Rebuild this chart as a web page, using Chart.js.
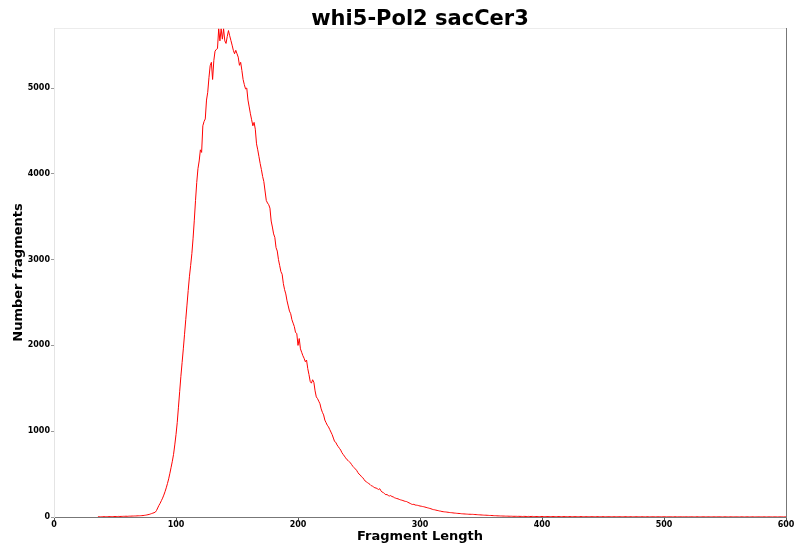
<!DOCTYPE html>
<html>
<head>
<meta charset="utf-8">
<title>whi5-Pol2 sacCer3</title>
<script src="https://cdn.jsdelivr.net/npm/chart.js@4"></script>
<style>
  html, body { margin: 0; padding: 0; background: #fff; }
  #lengthChart { display: block; }
</style>
</head>
<body>
<canvas id="lengthChart" width="798" height="546"></canvas>
<script>
// Fragment length histogram

const firstLength = 36;

const fragmentCounts = [
    2, 3, 2, 3,
    3, 4, 3, 4, 4, 5, 4, 5, 5, 6,
    5, 6, 6, 7, 6, 7, 7, 8, 8, 9,
    8, 9, 10, 10, 11, 11, 12, 12, 13, 14,
    14, 15, 16, 17, 19, 21, 24, 27, 30, 35,
    40, 45, 50, 56, 75, 105, 135, 160, 190, 220,
    255, 295, 340, 390, 445, 510, 580, 650, 730, 840,
    960, 1100, 1280, 1460, 1640, 1800, 1960, 2130, 2300, 2470,
    2640, 2800, 2930, 3070, 3250, 3460, 3690, 3900, 4060, 4150,
    4280, 4250, 4560, 4610, 4640, 4860, 4950, 5120, 5260, 5300,
    5100, 5320, 5430, 5450, 5460, 5690, 5550, 5690, 5570, 5690,
    5550, 5520, 5600, 5670, 5610, 5555, 5500, 5440, 5400, 5440,
    5400, 5360, 5265, 5300, 5205, 5100, 5040, 4990, 5000, 4860,
    4780, 4700, 4630, 4560, 4600, 4520, 4350, 4280, 4200, 4120,
    4050, 3970, 3910, 3800, 3690, 3660, 3640, 3600, 3450, 3380,
    3300, 3260, 3140, 3100, 3000, 2930, 2860, 2830, 2720, 2650,
    2600, 2520, 2460, 2400, 2370, 2300, 2260, 2220, 2150, 2140,
    2000, 2080, 1960, 1920, 1880, 1850, 1810, 1830, 1730, 1660,
    1580, 1560, 1600, 1570, 1470, 1400, 1380, 1350, 1320, 1260,
    1220, 1190, 1130, 1100, 1070, 1050, 1020, 990, 960, 920,
    880, 870, 840, 820, 800, 780, 750, 730, 710, 690,
    670, 660, 645, 630, 610, 590, 575, 560, 545, 520,
    500, 490, 470, 460, 440, 420, 410, 400, 390, 380,
    365, 360, 350, 340, 338, 330, 320, 330, 305, 290,
    285, 270, 260, 262, 250, 245, 250, 238, 235, 225,
    220, 215, 212, 205, 200, 196, 192, 186, 182, 180,
    172, 165, 158, 150, 146, 148, 140, 138, 136, 132,
    128, 126, 122, 120, 116, 112, 108, 104, 100, 96,
    90, 86, 84, 80, 77, 74, 70, 68, 64, 62,
    60, 59, 57, 55, 53, 51, 50, 48, 46, 45,
    43, 42, 41, 40, 38, 37, 36, 35, 34, 33,
    32, 32, 31, 31, 30, 29, 28, 27, 26, 25,
    24, 23, 22, 21, 21, 20, 19, 18, 18, 17,
    16, 15, 15, 14, 13, 13, 12, 12, 11, 11,
    10, 10, 10, 9, 9, 9, 8, 8, 8, 8,
    7, 8, 7, 7, 6, 7, 7, 6, 6, 7,
    6, 6, 7, 6, 6, 5, 6, 6, 5, 6,
    6, 5, 5, 6, 5, 5, 6, 5, 5, 5,
    5, 5, 4, 5, 5, 5, 4, 5, 5, 4,
    5, 4, 4, 5, 4, 4, 5, 4, 4, 4,
    4, 4, 5, 4, 4, 4, 4, 3, 4, 4,
    4, 3, 4, 4, 3, 4, 4, 3, 4, 3,
    4, 3, 3, 4, 3, 3, 4, 3, 3, 3,
    3, 3, 4, 3, 3, 3, 3, 3, 3, 4,
    3, 3, 3, 3, 2, 3, 3, 3, 3, 3,
    3, 2, 3, 3, 3, 2, 3, 3, 2, 3,
    3, 2, 3, 2, 3, 3, 2, 3, 2, 3,
    2, 3, 2, 3, 2, 2, 3, 2, 2, 3,
    2, 2, 3, 2, 2, 2, 3, 2, 2, 2,
    2, 3, 2, 2, 2, 2, 2, 3, 2, 2,
    2, 2, 2, 3, 2, 2, 2, 2, 2, 2,
    2, 2, 2, 2, 3, 2, 2, 2, 1, 2,
    2, 2, 2, 1, 2, 2, 2, 2, 2, 1,
    2, 2, 1, 2, 2, 2, 1, 2, 2, 2,
    1, 2, 2, 2, 1, 2, 2, 1, 2, 2,
    2, 1, 2, 2, 1, 2, 2, 1, 2, 1,
    2, 1, 2, 1, 2, 2, 1, 2, 1, 2,
    1,
];

const fragmentLengths = fragmentCounts.map((c, i) => firstLength + i);

const xTicks = [0, 100, 200, 300, 400, 500, 600];
const yTicks = [0, 1000, 2000, 3000, 4000, 5000];

const chartTitle = 'whi5-Pol2 sacCer3';
const fontFamily = "'DejaVu Sans', 'Liberation Sans', sans-serif";

// right frame line
const framePlugin = {
    id: 'frame',
    afterDraw(chart) {
        const {ctx, chartArea} = chart;
        ctx.save();
        ctx.lineWidth = 1;
        ctx.strokeStyle = '#777777';
        ctx.beginPath();
        ctx.moveTo(chartArea.right + 0.5, chartArea.top);
        ctx.lineTo(chartArea.right + 0.5, chartArea.bottom);
        ctx.stroke();
        ctx.restore();
    }
};

const lengthData = {
    datasets: [{
        label: chartTitle,
        data: fragmentLengths.map((len, i) => ({x: len, y: fragmentCounts[i]})),
        borderColor: 'rgb(255, 0, 0)',
        backgroundColor: 'rgb(255, 0, 0)',
        borderWidth: 1,
        pointRadius: 0,
        tension: 0,
        fill: false,
    }]
};

const lengthConfig = {
    type: 'line',
    data: lengthData,
    plugins: [framePlugin],
    options: {
        responsive: false,
        animation: false,
        layout: {
            padding: {left: 0, right: 12, top: 0, bottom: 0}
        },
        plugins: {
            legend: {display: false},
            tooltip: {enabled: false},
            title: {display: false},
        },
        scales: {
            x: {
                type: 'linear',
                min: 0,
                max: 600,
                afterBuildTicks: (scale) => {
                    scale.ticks = xTicks.map(v => ({value: v}));
                },
                afterFit: (scale) => {
                    scale.height = 29;
                },
                ticks: {
                    color: '#000',
                    padding: 0,
                    maxRotation: 0,
                    font: {family: fontFamily, size: 8, weight: 'bold'},
                    callback: (v) => String(v),
                },
                grid: {
                    drawOnChartArea: false,
                    drawTicks: true,
                    tickLength: 3,
                    color: '#555',
                },
                border: {display: true, color: '#777', width: 1},
                title: {
                    display: true,
                    text: 'Fragment Length',
                    color: '#000',
                    font: {family: fontFamily, size: 13, weight: 'bold'},
                    padding: {top: 0, bottom: 2},
                },
            },
            // top axis carries the chart title, centred on the plot area
            xTop: {
                type: 'linear',
                position: 'top',
                min: 0,
                max: 600,
                afterFit: (scale) => {
                    scale.height = 28;
                },
                ticks: {display: false},
                grid: {drawOnChartArea: false, drawTicks: false},
                border: {display: true, color: '#ececec', width: 1},
                title: {
                    display: true,
                    text: chartTitle,
                    color: '#000',
                    font: {family: fontFamily, size: 21, weight: 'bold'},
                    padding: {top: 7, bottom: 0},
                },
            },
            y: {
                type: 'linear',
                min: 0,
                max: 5700,
                afterBuildTicks: (scale) => {
                    scale.ticks = yTicks.map(v => ({value: v}));
                },
                afterFit: (scale) => {
                    scale.width = 54;
                },
                ticks: {
                    color: '#000',
                    padding: 1,
                    font: {family: fontFamily, size: 8, weight: 'bold'},
                    callback: (v) => String(v),
                },
                grid: {
                    drawOnChartArea: false,
                    drawTicks: true,
                    tickLength: 3,
                    color: '#999',
                },
                border: {display: true, color: '#e4e4e4', width: 1},
                title: {
                    display: true,
                    text: 'Number fragments',
                    color: '#000',
                    font: {family: fontFamily, size: 13, weight: 'bold'},
                    padding: {top: 11, bottom: 0},
                },
            },
        },
    },
};

const lengthChart = new Chart(
    document.getElementById('lengthChart'),
    lengthConfig
);
</script>
</body>
</html>
